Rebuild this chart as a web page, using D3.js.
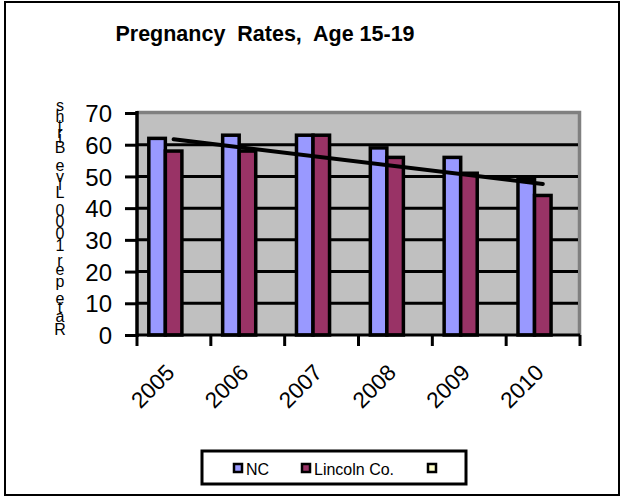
<!DOCTYPE html>
<html>
<head>
<meta charset="utf-8">
<script src="https://cdn.jsdelivr.net/npm/d3@7"></script>
<style>
  body { margin: 0; background: #fff; }
  text { font-family: "Liberation Sans", Arial, sans-serif; }
</style>
</head>
<body>
<div id="chart"></div>
<script>
// Chart data
var years = ["2005", "2006", "2007", "2008", "2009", "2010"];
var ncRates = [62, 63, 63, 59, 56, 49];
var lincolnRates = [58, 58, 63, 56, 51, 44];
// trend line through Lincoln Co. (start 2005, end 2010)
var trendValues = [61.7, 47.6];
var yTicks = [0, 10, 20, 30, 40, 50, 60, 70];
var seriesNames = ["NC", "Lincoln Co.", ""];
var seriesColors = ["#9999FF", "#993366", "#FFFFCC"];

var svgWidth = 621;
var svgHeight = 497;

var plot = { left: 137, right: 580, top: 113, bottom: 335 };

var svg = d3.select("#chart")
  .append("svg")
  .attr("width", svgWidth)
  .attr("height", svgHeight);

// outer frame
svg.append("rect")
  .attr("x", 5).attr("y", 2)
  .attr("width", 614).attr("height", 493)
  .attr("fill", "#fff")
  .attr("stroke", "#000")
  .attr("stroke-width", 2);

// title
svg.append("text")
  .attr("x", 265).attr("y", 41)
  .attr("text-anchor", "middle")
  .attr("font-size", "21.5px")
  .attr("font-weight", "bold")
  .style("white-space", "pre")
  .text("Pregnancy  Rates,  Age 15-19");

// scales
var x = d3.scaleBand()
  .domain(years)
  .range([plot.left, plot.right]);

var y = d3.scaleLinear()
  .domain([0, 70])
  .range([plot.bottom, plot.top]);

var bw = x.bandwidth();
var barOffset = bw * 0.16;
var barWidth = bw * 0.224;

// plot area background
svg.append("rect")
  .attr("x", plot.left).attr("y", plot.top)
  .attr("width", plot.right - plot.left)
  .attr("height", plot.bottom - plot.top)
  .attr("fill", "#C0C0C0");

// gray top and right walls
svg.append("path")
  .attr("d", `M${plot.left},${plot.top - 0.5}H${plot.right - 0.5}V${plot.bottom}`)
  .attr("fill", "none")
  .attr("stroke", "#808080")
  .attr("stroke-width", 3.5);

// gridlines
svg.append("g")
  .selectAll("line")
  .data(yTicks.filter(d => d > 0 && d < 70))
  .enter()
  .append("line")
  .attr("x1", plot.left)
  .attr("x2", plot.right - 2)
  .attr("y1", d => y(d))
  .attr("y2", d => y(d))
  .attr("stroke", "#000")
  .attr("stroke-width", 3);

// bars
var groups = svg.append("g")
  .selectAll("g")
  .data(years)
  .enter()
  .append("g");

groups.append("rect")
  .attr("x", (d, i) => x(d) + barOffset)
  .attr("y", (d, i) => y(ncRates[i]))
  .attr("width", barWidth)
  .attr("height", (d, i) => y(0) - y(ncRates[i]))
  .attr("fill", seriesColors[0])
  .attr("stroke", "#000")
  .attr("stroke-width", 3.5);

groups.append("rect")
  .attr("x", (d, i) => x(d) + barOffset + barWidth)
  .attr("y", (d, i) => y(lincolnRates[i]))
  .attr("width", barWidth)
  .attr("height", (d, i) => y(0) - y(lincolnRates[i]))
  .attr("fill", seriesColors[1])
  .attr("stroke", "#000")
  .attr("stroke-width", 3.5);

// trend line
var trendX = [years[0], years[years.length - 1]].map(d => x(d) + barOffset + barWidth * 1.5);
svg.append("line")
  .attr("x1", trendX[0]).attr("y1", y(trendValues[0]))
  .attr("x2", trendX[1]).attr("y2", y(trendValues[1]))
  .attr("stroke", "#000")
  .attr("stroke-width", 4)
  .attr("stroke-linecap", "round");

// y axis
var leftAxis = d3.axisLeft(y)
  .tickValues(yTicks)
  .tickSize(12)
  .tickPadding(13)
  .tickFormat(d3.format("d"));

var yAxisG = svg.append("g")
  .attr("transform", `translate(${plot.left}, 0)`)
  .call(leftAxis);
yAxisG.select(".domain")
  .attr("d", `M0,${plot.top - 2}V${plot.bottom + 2}`)
  .attr("stroke", "#000")
  .attr("stroke-width", 3.5);
yAxisG.selectAll(".tick line")
  .attr("stroke", "#000")
  .attr("stroke-width", 3);
yAxisG.selectAll(".tick text")
  .attr("font-family", "Liberation Sans, Arial, sans-serif")
  .attr("font-size", "24px")
  .attr("fill", "#000")
  .attr("dy", "0.36em");

// x axis
var bottomAxis = d3.axisBottom(x)
  .tickSize(0)
  .tickFormat("");

var xAxisG = svg.append("g")
  .attr("transform", `translate(0, ${plot.bottom})`)
  .call(bottomAxis);
xAxisG.select(".domain")
  .attr("d", `M${plot.left},0H${plot.right}`)
  .attr("stroke", "#000")
  .attr("stroke-width", 3);
xAxisG.selectAll(".tick").remove();

// category boundary ticks
svg.append("g")
  .selectAll("line")
  .data(years.concat(["end"]))
  .enter()
  .append("line")
  .attr("x1", (d, i) => i < years.length ? x(d) : plot.right)
  .attr("x2", (d, i) => i < years.length ? x(d) : plot.right)
  .attr("y1", plot.bottom)
  .attr("y2", plot.bottom + 11)
  .attr("stroke", "#000")
  .attr("stroke-width", 3);

// rotated year labels
svg.append("g")
  .selectAll("text")
  .data(years)
  .enter()
  .append("text")
  .attr("transform", d => `translate(${x(d) + bw / 2 + 2}, 374) rotate(-45)`)
  .attr("text-anchor", "end")
  .attr("font-size", "22.5px")
  .text(d => d);

// y axis title: upright glyphs stacked along a vertical baseline
var yTitle = "Rate per 1000 Live Births";
var ctx = document.createElement("canvas").getContext("2d");
ctx.font = "21px 'Liberation Sans', Arial, sans-serif";
var chars = yTitle.split("");
var pos = [];
var acc = 0;
chars.forEach(function(c) {
  var w = ctx.measureText(c).width;
  pos.push(acc + w / 2);
  acc += w;
});
var titleBottom = 337;
svg.append("g")
  .selectAll("text")
  .data(chars)
  .enter()
  .append("text")
  .attr("x", 60)
  .attr("y", (d, i) => titleBottom - pos[i] + 6)
  .attr("text-anchor", "middle")
  .attr("font-size", "16px")
  .text(d => d);

// legend
var legend = svg.append("g");
legend.append("rect")
  .attr("x", 202).attr("y", 451)
  .attr("width", 264).attr("height", 33)
  .attr("fill", "#fff")
  .attr("stroke", "#000")
  .attr("stroke-width", 3);

var legendX = [233, 301, 427];
var items = legend.selectAll("g.item")
  .data(seriesNames)
  .enter()
  .append("g")
  .attr("class", "item")
  .attr("transform", (d, i) => `translate(${legendX[i]}, 463)`);

items.append("rect")
  .attr("x", 1).attr("y", 1)
  .attr("width", 8).attr("height", 8)
  .attr("fill", (d, i) => seriesColors[i])
  .attr("stroke", "#000")
  .attr("stroke-width", 2.5);

items.append("text")
  .attr("x", 13)
  .attr("y", 11.5)
  .attr("font-size", "16px")
  .text(d => d);
</script>
</body>
</html>
